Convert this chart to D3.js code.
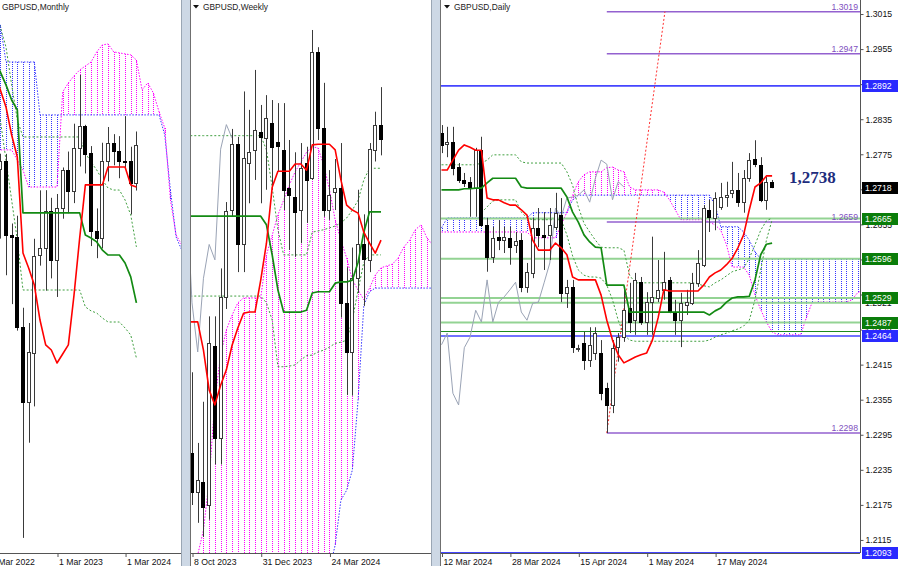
<!DOCTYPE html>
<html><head><meta charset="utf-8">
<script src="https://cdn.jsdelivr.net/npm/d3@7/dist/d3.min.js"></script>
<style>
html,body{margin:0;padding:0;background:#fff;}
svg{display:block;}
text{font-family:"Liberation Sans",Arial,sans-serif;}
</style></head>
<body>
<svg id="chart" width="900" height="566"></svg>
<script>
// ================= DATA =================
const panelTitles = ["GBPUSD,Monthly", "GBPUSD,Weekly", "GBPUSD,Daily"];

// ---- Monthly (bar index 0 = May 2022) ----
const monthlyTickIdx = [-2, 10, 22];
const monthlyTickLabels = ["1 Mar 2022", "1 Mar 2023", "1 Mar 2024"];
const monthlyOHLC = [
 [1.2573,1.2667,1.2155,1.2622],[1.2622,1.2666,1.1934,1.2177],[1.2177,1.2246,1.1760,1.2166],
 [1.2166,1.2293,1.1600,1.1621],[1.1621,1.1738,1.0350,1.1168],[1.1168,1.1646,1.0924,1.1469],
 [1.1469,1.2154,1.1143,1.2052],[1.2052,1.2446,1.1992,1.2097],[1.2097,1.2447,1.1841,1.2320],
 [1.2320,1.2401,1.1915,1.2022],[1.2022,1.2424,1.1803,1.2338],[1.2338,1.2584,1.2275,1.2567],
 [1.2567,1.2680,1.2308,1.2442],[1.2442,1.2848,1.2369,1.2703],[1.2703,1.3142,1.2590,1.2836],
 [1.2836,1.2841,1.2548,1.2669],[1.2669,1.2713,1.2110,1.2199],[1.2199,1.2337,1.2037,1.2158],
 [1.2158,1.2733,1.2096,1.2622],[1.2622,1.2828,1.2500,1.2730],[1.2730,1.2785,1.2597,1.2684],
 [1.2684,1.2773,1.2519,1.2624],[1.2624,1.2894,1.2575,1.2623],[1.2623,1.2709,1.2300,1.2491],
 [1.2491,1.2801,1.2445,1.2718]
];
// lines start at bar index -1
const monthlyTenkan = [1.3172,1.3052,1.2949,1.2780,1.2647,1.2068,1.1978,1.1875,1.1664,1.1514,1.1483,1.1405,1.1459,1.1514,1.1815,1.2159,1.2479,1.2479,1.2479,1.2479,1.2587,1.2587,1.2587,1.2587,1.2479,1.2466];
const monthlyKijun = [1.3232,1.3160,1.3082,1.2991,1.2931,1.2310,1.2310,1.2310,1.2310,1.2310,1.2310,1.2310,1.2310,1.2310,1.2310,1.2310,1.2177,1.2159,1.2135,1.2086,1.2056,1.2056,1.2056,1.2008,1.1924,1.1767];
const monthlyLevelA = [1.3534,1.3431,1.3311,1.3082,1.2871,1.2768,1.2768,1.2768,1.2768,1.2768,1.2768,1.2768,1.2768,1.2768,1.2768,1.2768,1.2671,1.2617,1.2569,1.2509,1.2460,1.2448,1.2448,1.2388,1.2298,1.2105];
const monthlyLevelB = [1.2991,1.2871,1.2629,1.2388,1.2147,1.1845,1.1845,1.1845,1.1845,1.1845,1.1845,1.1845,1.1845,1.1845,1.1845,1.1845,1.1743,1.1719,1.1706,1.1676,1.1652,1.1652,1.1652,1.1616,1.1574,1.1435];
const monthlySpanA = [1.3474,1.3444,1.3220,1.3220,1.3220,1.3220,1.3220,1.3220,1.2901,1.2901,1.2901,1.2901,1.2901,1.2901,1.2901,1.2901,1.2901,1.2901,1.2901,1.2901,1.2901,1.2901,1.2901,1.2901,1.2901,1.2901,1.2901,1.2901,1.2901,1.2901,1.2780,1.2448,1.2165,1.2086];
const monthlySpanB = [1.2690,1.2690,1.2690,1.2690,1.2629,1.2569,1.2466,1.2466,1.2466,1.2466,1.2466,1.2466,1.3039,1.3094,1.3136,1.3172,1.3196,1.3220,1.3281,1.3323,1.3329,1.3281,1.3275,1.3269,1.3263,1.3232,1.3052,1.3094,1.3033,1.2919,1.2822,1.2388,1.2177,1.2117];

// ---- Weekly (bar index 0 = week of 8 Oct 2023) ----
const weeklyTickIdx = [0, 12, 24];
const weeklyTickLabels = ["8 Oct 2023", "31 Dec 2023", "24 Mar 2024"];
const weeklyOHLC = [
 [1.2205,1.2337,1.2121,1.2141],[1.2142,1.2222,1.2092,1.2161],[1.2158,1.2289,1.2069,1.2118],
 [1.2121,1.2428,1.2097,1.2384],[1.2380,1.2428,1.2187,1.2230],[1.2230,1.2506,1.2187,1.2460],
 [1.2460,1.2614,1.2440,1.2600],[1.2600,1.2733,1.2590,1.2708],[1.2708,1.2720,1.2500,1.2545],
 [1.2545,1.2794,1.2500,1.2685],[1.2678,1.2764,1.2612,1.2696],[1.2699,1.2829,1.2650,1.2731],
 [1.2728,1.2772,1.2612,1.2720],[1.2718,1.2788,1.2634,1.2751],[1.2743,1.2780,1.2634,1.2704],
 [1.2712,1.2775,1.2663,1.2705],[1.2699,1.2775,1.2601,1.2634],[1.2637,1.2715,1.2536,1.2626],
 [1.2622,1.2695,1.2525,1.2598],[1.2601,1.2710,1.2547,1.2669],[1.2678,1.2704,1.2580,1.2650],
 [1.2653,1.2894,1.2650,1.2858],[1.2858,1.2866,1.2715,1.2735],[1.2735,1.2808,1.2590,1.2601],
 [1.2601,1.2666,1.2585,1.2626],[1.2630,1.2684,1.2601,1.2637],[1.2637,1.2710,1.2426,1.2450],
 [1.2450,1.2508,1.2300,1.2370],[1.2370,1.2540,1.2299,1.2490],[1.2490,1.2634,1.2466,1.2545],
 [1.2545,1.2594,1.2445,1.2520],[1.2520,1.2710,1.2500,1.2700],[1.2700,1.2761,1.2680,1.2740],
 [1.2740,1.2801,1.2690,1.2718]
];
// lines start at bar index -1
const weeklyTenkan = [1.2419,1.2419,1.2419,1.2373,1.2308,1.2284,1.2316,1.2341,1.2381,1.2409,1.2433,1.2435,1.2435,1.2487,1.2547,1.2638,1.2664,1.2664,1.2664,1.2676,1.2676,1.2666,1.2707,1.2708,1.2708,1.2708,1.2699,1.2650,1.2609,1.2601,1.2596,1.2565,1.2547,1.2531,1.2552];
const weeklyKijun = [1.2591,1.2591,1.2591,1.2591,1.2591,1.2591,1.2591,1.2591,1.2591,1.2591,1.2591,1.2591,1.2591,1.2591,1.2577,1.2528,1.2471,1.2435,1.2435,1.2435,1.2435,1.2438,1.2466,1.2468,1.2468,1.2468,1.2482,1.2484,1.2484,1.2487,1.2516,1.2565,1.2598,1.2598,1.2598];
const weeklyLevelA = [1.2722,1.2722,1.2722,1.2722,1.2722,1.2722,1.2722,1.2722,1.2722,1.2722,1.2722,1.2722,1.2722,1.2722,1.2699,1.2638,1.2569,1.2528,1.2528,1.2528,1.2528,1.2528,1.2565,1.2567,1.2569,1.2572,1.2575,1.2580,1.2588,1.2601,1.2617,1.2650,1.2669,1.2669,1.2669];
const weeklyLevelB = [1.2461,1.2461,1.2461,1.2461,1.2461,1.2461,1.2461,1.2461,1.2461,1.2461,1.2461,1.2461,1.2461,1.2461,1.2450,1.2422,1.2346,1.2346,1.2347,1.2349,1.2357,1.2364,1.2365,1.2370,1.2373,1.2378,1.2384,1.2386,1.2389,1.2422,1.2471,1.2516,1.2528,1.2528,1.2528];
const weeklySpanA = [1.1950,1.1950,1.1950,1.1950,1.1950,1.1950,1.1950,1.1950,1.1950,1.1950,1.1950,1.1950,1.1950,1.1950,1.1950,1.1950,1.1950,1.1950,1.1950,1.1950,1.1950,1.1950,1.1950,1.1950,1.1950,1.2015,1.2056,1.2129,1.2145,1.2178,1.2292,1.2446,1.2468,1.2474,1.2474,1.2474,1.2474,1.2474,1.2474,1.2474,1.2474,1.2474,1.2474,1.2474];
const weeklySpanB = [1.2032,1.2032,1.2040,1.2080,1.2162,1.2292,1.2365,1.2406,1.2430,1.2450,1.2458,1.2458,1.2458,1.2458,1.2528,1.2560,1.2593,1.2617,1.2642,1.2663,1.2679,1.2695,1.2704,1.2702,1.2674,1.2634,1.2585,1.2552,1.2523,1.2487,1.2471,1.2455,1.2474,1.2495,1.2507,1.2510,1.2513,1.2523,1.2541,1.2552,1.2569,1.2577,1.2556,1.2544];

// ---- Daily (bar index 0 = 12 Mar 2024) ----
const dailyTickIdx = [0, 12, 24, 36, 48];
const dailyTickLabels = ["12 Mar 2024", "28 Mar 2024", "15 Apr 2024", "1 May 2024", "17 May 2024"];
const dailyPriceTicks = [1.2115,1.2175,1.2235,1.2295,1.2355,1.2415,1.2475,1.2535,1.2595,1.2655,1.2715,1.2775,1.2835,1.2895,1.2955,1.3015];
const dailyOHLC = [
 [1.2811,1.2825,1.2777,1.2791],[1.2793,1.2822,1.2770,1.2796],[1.2796,1.2822,1.2739,1.2751],
 [1.2753,1.2760,1.2726,1.2731],[1.2731,1.2743,1.2719,1.2726],[1.2728,1.2736,1.2668,1.2719],
 [1.2717,1.2786,1.2668,1.2782],[1.2782,1.2805,1.2651,1.2654],[1.2654,1.2666,1.2574,1.2599],
 [1.2599,1.2651,1.2589,1.2632],[1.2633,1.2662,1.2611,1.2628],[1.2628,1.2651,1.2606,1.2633],
 [1.2632,1.2651,1.2586,1.2616],[1.2620,1.2642,1.2606,1.2627],[1.2628,1.2640,1.2539,1.2548],
 [1.2548,1.2589,1.2538,1.2574],[1.2572,1.2666,1.2563,1.2649],[1.2649,1.2683,1.2616,1.2637],
 [1.2637,1.2676,1.2577,1.2633],[1.2637,1.2683,1.2594,1.2654],[1.2651,1.2709,1.2645,1.2675],
 [1.2671,1.2700,1.2522,1.2538],[1.2538,1.2560,1.2512,1.2548],[1.2548,1.2560,1.2435,1.2445],
 [1.2442,1.2449,1.2437,1.2444],[1.2452,1.2471,1.2406,1.2423],[1.2423,1.2479,1.2411,1.2449],
 [1.2435,1.2479,1.2423,1.2469],[1.2435,1.2457,1.2354,1.2366],[1.2375,1.2384,1.2298,1.2346],
 [1.2346,1.2457,1.2332,1.2444],[1.2445,1.2469,1.2420,1.2462],[1.2461,1.2548,1.2454,1.2508],
 [1.2512,1.2555,1.2469,1.2488],[1.2491,1.2572,1.2466,1.2560],[1.2556,1.2565,1.2483,1.2488],
 [1.2488,1.2539,1.2466,1.2522],[1.2522,1.2634,1.2466,1.2531],[1.2529,1.2594,1.2522,1.2543],
 [1.2543,1.2608,1.2526,1.2556],[1.2560,1.2565,1.2503,1.2505],[1.2505,1.2526,1.2466,1.2491],
 [1.2491,1.2538,1.2445,1.2520],[1.2517,1.2543,1.2500,1.2522],[1.2520,1.2572,1.2517,1.2555],
 [1.2555,1.2611,1.2548,1.2589],[1.2586,1.2688,1.2582,1.2683],[1.2680,1.2697,1.2642,1.2668],
 [1.2666,1.2710,1.2645,1.2700],[1.2685,1.2726,1.2680,1.2702],[1.2702,1.2728,1.2685,1.2705],
 [1.2709,1.2762,1.2700,1.2714],[1.2714,1.2743,1.2685,1.2693],[1.2693,1.2748,1.2675,1.2734],
 [1.2734,1.2777,1.2728,1.2765],[1.2767,1.2799,1.2753,1.2758],[1.2757,1.2770,1.2693,1.2697],
 [1.2697,1.2736,1.2680,1.2728],[1.2728,1.2731,1.2717,1.2719]
];
const dailyTenkan = [1.2748,1.2748,1.2765,1.2782,1.2791,1.2787,1.2782,1.2782,1.2700,1.2697,1.2697,1.2692,1.2688,1.2688,1.2680,1.2671,1.2628,1.2611,1.2611,1.2611,1.2623,1.2615,1.2603,1.2565,1.2560,1.2560,1.2560,1.2560,1.2534,1.2491,1.2457,1.2432,1.2418,1.2423,1.2428,1.2432,1.2435,1.2457,1.2495,1.2543,1.2541,1.2541,1.2541,1.2541,1.2541,1.2541,1.2551,1.2565,1.2572,1.2577,1.2586,1.2597,1.2615,1.2637,1.2680,1.2719,1.2726,1.2738,1.2738];
const dailyKijun = [1.2714,1.2714,1.2714,1.2714,1.2716,1.2716,1.2717,1.2717,1.2726,1.2734,1.2734,1.2734,1.2734,1.2734,1.2719,1.2717,1.2717,1.2717,1.2717,1.2717,1.2717,1.2717,1.2702,1.2676,1.2659,1.2637,1.2625,1.2616,1.2615,1.2551,1.2551,1.2551,1.2551,1.2505,1.2505,1.2505,1.2505,1.2505,1.2505,1.2505,1.2505,1.2505,1.2505,1.2505,1.2505,1.2505,1.2505,1.2500,1.2507,1.2512,1.2522,1.2529,1.2531,1.2531,1.2532,1.2560,1.2603,1.2621,1.2623];
const dailyLevelA = [1.2757,1.2757,1.2757,1.2757,1.2757,1.2757,1.2757,1.2760,1.2765,1.2774,1.2774,1.2774,1.2774,1.2774,1.2762,1.2760,1.2760,1.2760,1.2760,1.2760,1.2760,1.2760,1.2745,1.2722,1.2685,1.2657,1.2642,1.2628,1.2616,1.2615,1.2615,1.2615,1.2611,1.2568,1.2555,1.2555,1.2555,1.2555,1.2555,1.2555,1.2555,1.2555,1.2555,1.2555,1.2555,1.2553,1.2550,1.2548,1.2555,1.2560,1.2567,1.2574,1.2577,1.2580,1.2597,1.2620,1.2645,1.2661,1.2666];
const dailyLevelB = [null,null,null,null,null,null,null,1.2675,1.2685,1.2695,1.2697,1.2697,1.2697,1.2697,1.2676,1.2666,1.2663,1.2663,1.2663,1.2663,1.2663,1.2663,1.2637,1.2601,1.2577,1.2568,1.2565,1.2565,1.2563,1.2551,1.2526,1.2491,1.2466,1.2457,1.2455,1.2455,1.2455,1.2455,1.2455,1.2455,1.2455,1.2455,1.2455,1.2455,1.2455,1.2455,1.2455,1.2457,1.2462,1.2466,1.2469,1.2473,1.2476,1.2481,1.2491,1.2526,1.2577,1.2628,1.2663];
const dailySpanA = [1.2649,1.2666,1.2666,1.2666,1.2666,1.2666,1.2666,1.2666,1.2666,1.2666,1.2666,1.2666,1.2666,1.2666,1.2666,1.2666,1.2675,1.2675,1.2675,1.2675,1.2675,1.2675,1.2675,1.2697,1.2705,1.2705,1.2705,1.2705,1.2705,1.2705,1.2705,1.2705,1.2705,1.2705,1.2705,1.2705,1.2705,1.2705,1.2705,1.2705,1.2705,1.2705,1.2705,1.2705,1.2705,1.2705,1.2705,1.2705,1.2688,1.2651,1.2651,1.2651,1.2651,1.2642,1.2628,1.2608,1.2596,1.2596,1.2596,1.2596,1.2596,1.2596,1.2596,1.2596,1.2596,1.2596,1.2596,1.2596,1.2596,1.2596,1.2596,1.2596,1.2596,1.2596,1.2596];
const dailySpanB = [1.2642,1.2642,1.2642,1.2642,1.2642,1.2642,1.2642,1.2642,1.2642,1.2642,1.2642,1.2642,1.2642,1.2642,1.2642,1.2642,1.2632,1.2632,1.2632,1.2632,1.2632,1.2654,1.2676,1.2705,1.2728,1.2740,1.2745,1.2745,1.2745,1.2752,1.2753,1.2748,1.2745,1.2719,1.2714,1.2714,1.2714,1.2714,1.2714,1.2710,1.2697,1.2680,1.2663,1.2663,1.2663,1.2663,1.2663,1.2659,1.2654,1.2645,1.2620,1.2582,1.2582,1.2582,1.2568,1.2534,1.2509,1.2488,1.2471,1.2466,1.2466,1.2466,1.2466,1.2466,1.2495,1.2521,1.2522,1.2522,1.2522,1.2522,1.2522,1.2522,1.2526,1.2538,1.2543];
const dailyBlueLevels = [1.2892, 1.2464, 1.2093];
const dailyGreenLevels = [1.2665, 1.2596, 1.2529, 1.2521, 1.2487];
const dailyDarkGreenLevels = [1.2472];
const dailyFiboLevels = [1.3019, 1.2947, 1.2659, 1.2298];
const dailyFiboStartIdx = 29;
const dailyTrendFrom = [29, 1.2298];
const dailyTrendTo = [39.2, 1.3019];
const dailyBlueTags = [1.2892, 1.2464, 1.2093];
const dailyGreenTags = [1.2665, 1.2596, 1.2529, 1.2487];
const dailyPlainTags = [1.2521, 1.2472];
const dailyLastPrice = 1.2718;
const dailyTenkanNote = "1,2738";

// ================= DRAWING =================
const BLUE = "#3535ff", MAGENTA = "#ff00ff";
const PLOT_BOTTOM = 553;
const svg = d3.select("#chart");

const xM = d3.scaleLinear().domain([0, 24]).range([0.3, 136.4]);
const yM = d3.scaleLinear().domain([1.0283, 1.3594]).range([549, 0]);
const xW = d3.scaleLinear().domain([0, 33]).range([192, 381]);
const yW = d3.scaleLinear().domain([1.20494, 1.29428]).range([549, 0]);
const xD = d3.scaleLinear().domain([0, 58]).range([441.5, 772.1]);
const yD = d3.scaleLinear().domain([1.20995, 1.30390]).range([549, 0]);

function panel(id, x0, x1) {
  svg.append("clipPath").attr("id", id).append("rect")
    .attr("x", x0).attr("y", 0).attr("width", x1 - x0).attr("height", PLOT_BOTTOM);
  return svg.append("g").attr("clip-path", `url(#${id})`);
}
function pts(arr, start) {
  return arr.map((v, i) => [i + start, v]).filter(d => d[1] != null);
}
function drawLine(g, xs, ys, arr, start, color, width, dash) {
  g.append("path").datum(pts(arr, start))
    .attr("d", d3.line().x(d => xs(d[0])).y(d => ys(d[1])))
    .attr("fill", "none").attr("stroke", color).attr("stroke-width", width)
    .attr("stroke-linejoin", "round")
    .attr("stroke-dasharray", dash || null);
}
function drawCloud(g, xs, ys, A, B, start) {
  const rows = A.map((a, i) => ({ i: i + start, a: a, b: B[i] }));
  g.append("g").selectAll("line").data(rows).join("line")
    .attr("x1", d => Math.round(xs(d.i)) + 0.5).attr("x2", d => Math.round(xs(d.i)) + 0.5)
    .attr("y1", d => Math.round(ys(Math.max(d.a, d.b))))
    .attr("y2", d => Math.round(ys(Math.min(d.a, d.b))))
    .attr("stroke", d => d.a >= d.b ? BLUE : MAGENTA)
    .attr("stroke-width", 1).attr("stroke-dasharray", "1,1");
  drawLine(g, xs, ys, A, start, BLUE, 1, "1.5,1.5");
  drawLine(g, xs, ys, B, start, MAGENTA, 1, "1.5,1.5");
}
function drawCandles(g, xs, ys, ohlc, start) {
  const rows = ohlc.map((d, i) => ({ i: i + start, o: d[0], h: d[1], l: d[2], c: d[3] }));
  const gg = g.append("g");
  gg.selectAll("line").data(rows).join("line")
    .attr("x1", d => Math.round(xs(d.i)) + 0.5).attr("x2", d => Math.round(xs(d.i)) + 0.5)
    .attr("y1", d => ys(d.h)).attr("y2", d => ys(d.l))
    .attr("stroke", "#3a3a3a").attr("stroke-width", 1);
  gg.selectAll("rect").data(rows).join("rect")
    .attr("x", d => Math.round(xs(d.i)) - 1.5).attr("width", 3)
    .attr("y", d => Math.round(ys(Math.max(d.o, d.c))) + 0.5)
    .attr("height", d => Math.max(1, Math.round(Math.abs(ys(d.o) - ys(d.c)))))
    .attr("fill", d => d.c >= d.o ? "#ffffff" : "#000000")
    .attr("stroke", d => d.c >= d.o ? "#3a3a3a" : "#000000").attr("stroke-width", 1);
}
function drawIchimoku(g, xs, ys, o) {
  drawCloud(g, xs, ys, o.spanA, o.spanB, o.cloudStart);
  if (o.levelA) drawLine(g, xs, ys, o.levelA, o.lineStart, "#3f9f3f", 1, "2,2");
  if (o.levelB) drawLine(g, xs, ys, o.levelB, o.lineStart, "#3f9f3f", 1, "2,2");
}
function drawMainLines(g, xs, ys, o) {
  drawLine(g, xs, ys, o.kijun, o.lineStart, "#138a13", 1.7);
  drawLine(g, xs, ys, o.tenkan, o.lineStart, "#ff0000", 1.6);
}
function drawDateAxis(xs, idx, labels, x0, x1) {
  const ax = d3.axisBottom(xs).tickValues(idx).tickFormat((d, i) => labels[i]).tickSize(4).tickPadding(2);
  const cid = "ax" + Math.round(x0);
  svg.append("clipPath").attr("id", cid).append("rect")
    .attr("x", x0).attr("y", PLOT_BOTTOM).attr("width", x1 - x0).attr("height", 566 - PLOT_BOTTOM);
  const outer = svg.append("g").attr("clip-path", `url(#${cid})`);
  const g = outer.append("g").attr("transform", `translate(0,${PLOT_BOTTOM})`).call(ax);
  g.select(".domain").remove();
  g.selectAll(".tick line").attr("stroke", "#555").attr("transform", "translate(0.5,0)");
  g.selectAll(".tick text").attr("text-anchor", "start").attr("x", 1.5).attr("y", 5).attr("dy", "0.75em")
    .attr("fill", "#111").style("font-size", "8.7px").style("font-family", '"Liberation Sans",Arial,sans-serif');
  svg.append("line").attr("x1", x0).attr("x2", x1).attr("y1", PLOT_BOTTOM + 0.5).attr("y2", PLOT_BOTTOM + 0.5).attr("stroke", "#555");
}
function header(x, title, triangle) {
  if (triangle) svg.append("path").attr("d", `M${x},5 L${x + 6},5 L${x + 3},8.5 Z`).attr("fill", "#111");
  svg.append("text").attr("x", triangle ? x + 10 : x).attr("y", 9.5).attr("fill", "#222")
    .style("font-size", "8.4px").text(title);
}

// ---------- Monthly ----------
const gM = panel("cm", 0, 181);
drawIchimoku(gM, xM, yM, { spanA: monthlySpanA, spanB: monthlySpanB, cloudStart: -1,
  levelA: monthlyLevelA, levelB: monthlyLevelB, lineStart: -1 });
drawCandles(gM, xM, yM, monthlyOHLC, 0);
drawMainLines(gM, xM, yM, { kijun: monthlyKijun, tenkan: monthlyTenkan, lineStart: -1 });

// ---------- Weekly ----------
const gW = panel("cw", 190, 431);
const weeklyChikou = weeklyOHLC.slice(25).map(d => d[3]);
drawIchimoku(gW, xW, yW, { spanA: weeklySpanA, spanB: weeklySpanB, cloudStart: -1,
  levelA: weeklyLevelA, levelB: weeklyLevelB, lineStart: -1 });
drawLine(gW, xW, yW, weeklyChikou, -1, "#9aa3b5", 1);
drawCandles(gW, xW, yW, weeklyOHLC, 0);
drawMainLines(gW, xW, yW, { kijun: weeklyKijun, tenkan: weeklyTenkan, lineStart: -1 });

// ---------- Daily ----------
const gD = panel("cd", 441, 860);
const dailyChikou = dailyOHLC.slice(26).map(d => d[3]);
drawCloud(gD, xD, yD, dailySpanA, dailySpanB, 0);
const xLeft = 441, xRight = 860;
gD.selectAll(".lvg").data(dailyGreenLevels).join("line")
  .attr("x1", xLeft).attr("x2", xRight).attr("y1", d => yD(d)).attr("y2", d => yD(d))
  .attr("stroke", "#93d393").attr("stroke-width", 2);
gD.selectAll(".lvdg").data(dailyDarkGreenLevels).join("line")
  .attr("x1", xLeft).attr("x2", xRight).attr("y1", d => Math.round(yD(d)) + 0.5).attr("y2", d => Math.round(yD(d)) + 0.5)
  .attr("stroke", "#1f8a1f").attr("stroke-width", 1);
gD.selectAll(".lvb").data(dailyBlueLevels).join("line")
  .attr("x1", xLeft).attr("x2", xRight).attr("y1", d => yD(d)).attr("y2", d => yD(d))
  .attr("stroke", "#4545ff").attr("stroke-width", 1.6);
gD.selectAll(".lvf").data(dailyFiboLevels).join("line")
  .attr("x1", xD(dailyFiboStartIdx)).attr("x2", xRight).attr("y1", d => yD(d)).attr("y2", d => yD(d))
  .attr("stroke", "#9361cf").attr("stroke-width", 1.5);
gD.selectAll(".lvft").data(dailyFiboLevels).join("text")
  .attr("x", xRight - 2).attr("y", d => yD(d) - 2).attr("text-anchor", "end")
  .attr("fill", "#8050c0").style("font-size", "8.7px").text(d => d.toFixed(4));
drawLine(gD, xD, yD, dailyLevelA, 0, "#3f9f3f", 1, "2,2");
drawLine(gD, xD, yD, dailyLevelB, 0, "#3f9f3f", 1, "2,2");
drawLine(gD, xD, yD, dailyChikou, 0, "#9aa3b5", 1);
gD.append("line").attr("x1", xD(dailyTrendFrom[0])).attr("y1", yD(dailyTrendFrom[1]))
  .attr("x2", xD(dailyTrendTo[0])).attr("y2", yD(dailyTrendTo[1]))
  .attr("stroke", "#ff3030").attr("stroke-width", 1).attr("stroke-dasharray", "2,2");
drawCandles(gD, xD, yD, dailyOHLC, 0);
drawMainLines(gD, xD, yD, { kijun: dailyKijun, tenkan: dailyTenkan, lineStart: 0 });
svg.append("text").attr("x", 789).attr("y", 183).attr("fill", "#1e2d7d")
  .style("font-family", '"Liberation Serif","Times New Roman",serif').style("font-weight", "bold")
  .style("font-size", "17px").text(dailyTenkanNote);

// right price axis
const yAxis = d3.axisRight(yD).tickValues(dailyPriceTicks).tickFormat(d3.format(".4f")).tickSize(3).tickPadding(2);
const gy = svg.append("g").attr("transform", `translate(${xRight + 0.5},0)`).call(yAxis);
gy.select(".domain").attr("stroke", "#555").attr("d", `M0,0V${PLOT_BOTTOM}`);
gy.selectAll(".tick line").attr("stroke", "#555");
gy.selectAll(".tick text").attr("fill", "#111").style("font-size", "8.7px");
function tag(p, bg, fg) {
  const y = yD(p);
  svg.append("rect").attr("x", 862).attr("y", Math.round(y) - 6).attr("width", 36).attr("height", 12).attr("fill", bg);
  svg.append("text").attr("x", 865).attr("y", y).attr("dy", "0.34em").attr("fill", fg)
    .style("font-size", "8.7px").text(p.toFixed(4));
}
dailyPlainTags.forEach(p => tag(p, "#ffffff", "#111"));
dailyGreenTags.forEach(p => tag(p, "#0a7d0a", "#ffffff"));
dailyBlueTags.forEach(p => tag(p, "#2a2aff", "#ffffff"));
tag(dailyLastPrice, "#000000", "#ffffff");

// ---------- Frames ----------
function separator(x0, x1) {
  svg.append("rect").attr("x", x0).attr("y", 0).attr("width", x1 - x0).attr("height", 566).attr("fill", "#cdd8e5");
  svg.append("line").attr("x1", x0 + 0.5).attr("x2", x0 + 0.5).attr("y1", 0).attr("y2", 566).attr("stroke", "#9aa6b4");
  svg.append("line").attr("x1", x1 - 0.5).attr("x2", x1 - 0.5).attr("y1", 0).attr("y2", 566).attr("stroke", "#6f6f6f");
}
separator(181, 191);
separator(431, 441);

drawDateAxis(xM, monthlyTickIdx, monthlyTickLabels, 0, 181);
drawDateAxis(xW, weeklyTickIdx, weeklyTickLabels, 191, 431);
drawDateAxis(xD, dailyTickIdx, dailyTickLabels, 441, 860);

header(2, panelTitles[0], false);
header(193, panelTitles[1], true);
header(444, panelTitles[2], true);
</script>
</body></html>
